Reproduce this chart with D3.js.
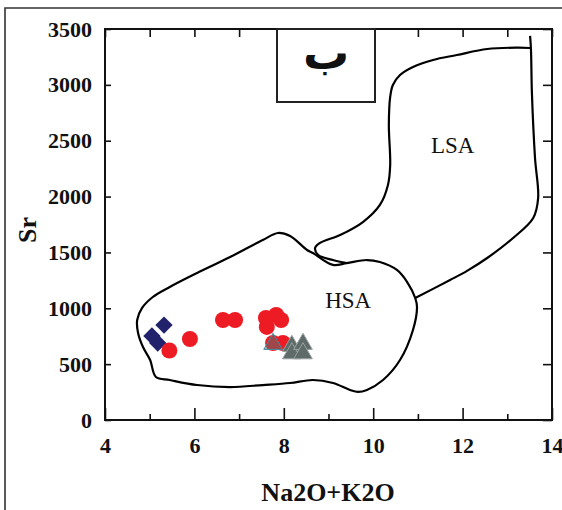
<!DOCTYPE html>
<html>
<head>
<meta charset="utf-8">
<script src="https://cdn.jsdelivr.net/npm/d3@7/dist/d3.min.js"></script>
<style>
  html, body { margin: 0; padding: 0; background: #fff; }
  svg { display: block; }
  .tick text { font-family: "Liberation Serif", "Times New Roman", serif; font-weight: bold; font-size: 22px; fill: #111; }
</style>
</head>
<body>
<svg id="chart" width="562" height="510"></svg>
<script>
// Axis ticks
const xMajorTicks = [4, 6, 8, 10, 12, 14];
const xMinorTicks = [5, 7, 9, 11, 13];
const yTicks = [0, 500, 1000, 1500, 2000, 2500, 3000, 3500];

// Samples: Na2O+K2O (wt%) vs Sr (ppm)
const diamondX = [5.32, 5.05, 5.18];
const diamondY = [850, 752, 689];

const circleX = [5.44, 5.90, 6.64, 6.91, 7.60, 7.62, 7.83, 7.94, 7.76, 7.98];
const circleY = [622, 725, 895, 895, 913, 833, 940, 895, 689, 689];

const triangleX = [7.76, 8.18, 8.18, 8.43, 8.43];
const triangleY = [680, 662, 596, 680, 596];

// Field boundaries
const hsaX = [7.87, 8.14, 8.52, 8.65, 9.10, 9.41, 9.86, 10.15, 10.53, 10.76, 10.94, 10.98, 10.89, 10.60, 10.22, 9.86, 9.66, 9.48, 9.10, 8.65, 8.14, 7.53, 6.80, 6.06, 5.45, 5.14, 5.01, 4.85, 4.74, 4.72, 4.83, 5.07, 5.45, 6.06, 6.80, 7.53];
const hsaY = [1674, 1647, 1522, 1495, 1388, 1405, 1432, 1414, 1343, 1235, 1092, 1012, 806, 537, 358, 269, 251, 269, 331, 358, 331, 313, 295, 313, 358, 385, 537, 653, 779, 895, 1003, 1101, 1191, 1316, 1459, 1611];

const lsaRightX = [13.51, 13.53, 13.55, 13.62, 13.69, 13.58, 13.13, 12.55, 12.10, 11.72, 10.94];
const lsaRightY = [3438, 3312, 2936, 2345, 1987, 1808, 1629, 1450, 1335, 1253, 1092];

const lsaLeftX = [9.41, 9.10, 8.77, 8.70, 8.81, 9.26, 9.77, 10.15, 10.33, 10.38, 10.35, 10.38, 10.44, 10.60, 10.89, 11.34, 11.87, 12.55, 13.22, 13.51];
const lsaLeftY = [1405, 1432, 1477, 1540, 1585, 1656, 1772, 1925, 2104, 2283, 2641, 2892, 2999, 3088, 3160, 3223, 3267, 3321, 3333, 3330];

const svg = d3.select("#chart");
const x = d3.scaleLinear().domain([4, 14]).range([105, 552]);
const y = d3.scaleLinear().domain([0, 3500]).range([420, 29]);

// outer panel frame
svg.append("path")
  .attr("d", "M5,510 L5,8 L562,8")
  .attr("fill", "none").attr("stroke", "#333").attr("stroke-width", 1.6);

// field outlines
const line = d3.line().x(d => x(d[0])).y(d => y(d[1]));
const fieldStyle = sel => sel.attr("fill", "none").attr("stroke", "#000").attr("stroke-width", 2.2).attr("stroke-linejoin", "round");

svg.append("path")
  .datum(d3.zip(hsaX, hsaY))
  .attr("d", line.curve(d3.curveCatmullRomClosed.alpha(0.5)))
  .call(fieldStyle);

svg.append("path")
  .datum(d3.zip(lsaRightX, lsaRightY))
  .attr("d", line.curve(d3.curveCatmullRom.alpha(0.5)))
  .call(fieldStyle);

svg.append("path")
  .datum(d3.zip(lsaLeftX, lsaLeftY))
  .attr("d", line.curve(d3.curveCatmullRom.alpha(0.5)))
  .call(fieldStyle);

// field names
const fieldText = (txt, fx, fy) => svg.append("text")
  .attr("x", x(fx)).attr("y", y(fy))
  .attr("text-anchor", "middle")
  .attr("font-family", "'Liberation Serif', 'Times New Roman', serif")
  .attr("font-size", 23).attr("fill", "#111")
  .text(txt);
fieldText("LSA", 11.78, 2390);
fieldText("HSA", 9.44, 1000);

// samples
svg.append("g").selectAll("path")
  .data(d3.zip(diamondX, diamondY))
  .join("path")
  .attr("d", d3.symbol(d3.symbolSquare, 150))
  .attr("transform", d => `translate(${x(d[0])},${y(d[1])}) rotate(45)`)
  .attr("fill", "#22226c");

svg.append("g").selectAll("circle")
  .data(d3.zip(circleX, circleY))
  .join("circle")
  .attr("cx", d => x(d[0])).attr("cy", d => y(d[1]))
  .attr("r", 8)
  .attr("fill", "#ed1c24");

svg.append("g").selectAll("path")
  .data(d3.zip(triangleX, triangleY))
  .join("path")
  .attr("d", d3.symbol(d3.symbolTriangle, 150))
  .attr("transform", d => `translate(${x(d[0])},${y(d[1])})`)
  .attr("fill", (d, i) => i === 0 ? "rgba(95,107,105,0.55)" : "#5f6b69")
  .attr("stroke", (d, i) => i === 0 ? "#3f8ea0" : "#97a1a0")
  .attr("stroke-width", 1);

// axes
const axisG = svg.append("g");
axisG.append("g").attr("transform", "translate(0,420)")
  .call(d3.axisBottom(x).tickValues(xMajorTicks).tickSizeInner(-12).tickSizeOuter(0).tickPadding(17).tickFormat(d3.format("d")));
axisG.append("g").attr("transform", "translate(0,420)")
  .call(d3.axisBottom(x).tickValues(xMinorTicks).tickSizeInner(-6).tickSizeOuter(0).tickFormat(""));
axisG.append("g").attr("transform", "translate(0,29)")
  .call(d3.axisTop(x).tickValues(xMajorTicks.concat(xMinorTicks)).tickSizeInner(-8).tickSizeOuter(0).tickFormat(""));
axisG.append("g").attr("transform", "translate(105,0)")
  .call(d3.axisLeft(y).tickValues(yTicks).tickSizeInner(-6).tickSizeOuter(0).tickPadding(13).tickFormat(d3.format("d")));
axisG.append("g").attr("transform", "translate(552,0)")
  .call(d3.axisRight(y).tickValues(yTicks).tickSizeInner(-9).tickSizeOuter(0).tickFormat(""));
axisG.selectAll(".domain").remove();
axisG.selectAll(".tick line").attr("stroke", "#111").attr("stroke-width", 1.6);

// plot frame
svg.append("rect")
  .attr("x", 105).attr("y", 29).attr("width", 447).attr("height", 391)
  .attr("fill", "none").attr("stroke", "#111").attr("stroke-width", 2);

// panel letter box
svg.append("rect")
  .attr("x", 277).attr("y", 29).attr("width", 98).attr("height", 73)
  .attr("fill", "#fff").attr("stroke", "#222").attr("stroke-width", 2);
svg.append("text")
  .attr("x", 326).attr("y", 69)
  .attr("text-anchor", "middle")
  .attr("font-family", "'DejaVu Sans', sans-serif")
  .attr("font-weight", "bold").attr("font-size", 46).attr("fill", "#111")
  .text("ب");

// axis titles
svg.append("text")
  .attr("x", 328).attr("y", 501)
  .attr("text-anchor", "middle")
  .attr("font-family", "'Liberation Serif', 'Times New Roman', serif")
  .attr("font-weight", "bold").attr("font-size", 26).attr("fill", "#111")
  .text("Na2O+K2O");
svg.append("text")
  .attr("transform", "translate(36,230) rotate(-90)")
  .attr("text-anchor", "middle")
  .attr("font-family", "'Liberation Serif', 'Times New Roman', serif")
  .attr("font-weight", "bold").attr("font-size", 26).attr("fill", "#111")
  .text("Sr");
</script>
</body>
</html>
